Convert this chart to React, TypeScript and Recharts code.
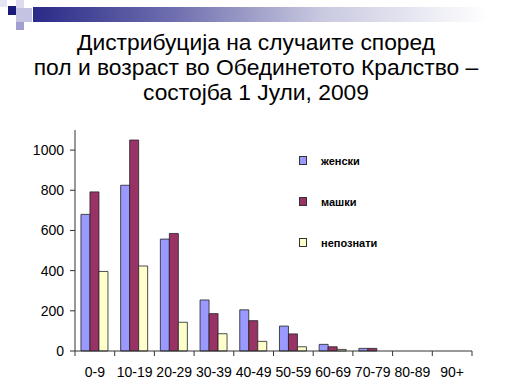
import React from "react";
import { BarChart, Bar, XAxis, YAxis } from "recharts";

const ageGroups = ["0-9", "10-19", "20-29", "30-39", "40-49", "50-59", "60-69", "70-79", "80-89", "90+"];
const female = [680, 825, 557, 254, 205, 124, 33, 13, 0, 0];
const male = [792, 1050, 585, 186, 151, 85, 21, 13, 0, 0];
const unknown = [396, 423, 143, 86, 48, 21, 8, 0, 0, 0];
const yTicks = [0, 200, 400, 600, 800, 1000];

const seriesNames = ["женски", "машки", "непознати"];
const seriesColors = ["#9999ff", "#993366", "#ffffcc"];

const data = ageGroups.map((g, i) => ({
  name: g,
  female: female[i],
  male: male[i],
  unknown: unknown[i],
}));

const CHART_W = 512;
const CHART_H = 384;
const margin = { top: 130, right: 40, bottom: 8, left: 30 };
const Y_AXIS_W = 45;
const plotW = CHART_W - margin.left - margin.right - Y_AXIS_W;
const band = plotW / ageGroups.length;

const XTick = (props: any) => {
  const { x, y, payload, index } = props;
  const axisY = y - 8;
  const left = x - band / 2;
  return (
    <g>
      <line x1={left} x2={left} y1={axisY} y2={axisY + 5} stroke="#333" />
      {index === ageGroups.length - 1 && (
        <line x1={x + band / 2} x2={x + band / 2} y1={axisY} y2={axisY + 5} stroke="#333" />
      )}
      <text x={x} y={axisY + 26} textAnchor="middle" fontSize={14} fill="#000">
        {payload.value}
      </text>
    </g>
  );
};

// legend is drawn as a plain overlay so it doesn't shrink the plot
const LegendBox = () => (
  <div style={{ position: "absolute", left: 299, top: 140 }}>
    {seriesNames.map((n, i) => (
      <div key={n} style={{ display: "flex", alignItems: "center", height: 41 }}>
        <div
          style={{
            width: 6,
            height: 7,
            background: seriesColors[i],
            border: "1px solid #333",
            marginRight: 14,
          }}
        />
        <span style={{ fontSize: 11, fontWeight: "bold", color: "#000" }}>{n}</span>
      </div>
    ))}
  </div>
);

const Decoration = () => (
  <>
    <div style={{ position: "absolute", left: 0, top: 0, width: 7, height: 7, background: "#e4e4f2" }} />
    <div style={{ position: "absolute", left: 8, top: 6, width: 8, height: 9, background: "#1a1a7a" }} />
    <div style={{ position: "absolute", left: 16, top: 0, width: 8, height: 8, background: "#dcdcee" }} />
    <div style={{ position: "absolute", left: 16, top: 8, width: 16, height: 14, background: "#c4c4e2" }} />
    <div style={{ position: "absolute", left: 16, top: 22, width: 8, height: 8, background: "#a0a0d0" }} />
    <div
      style={{
        position: "absolute",
        left: 33,
        top: 7,
        width: 479,
        height: 15,
        background: "linear-gradient(to right, #2a2a88 0%, #7070b0 30%, #c8c8e0 60%, #ffffff 95%)",
      }}
    />
  </>
);

export default function App() {
  return (
    <div
      style={{
        position: "absolute",
        left: 0,
        top: 0,
        width: CHART_W,
        height: CHART_H,
        background: "#fff",
        fontFamily: "Arial, 'Liberation Sans', sans-serif",
        overflow: "hidden",
      }}
    >
      <Decoration />
      <div
        style={{
          position: "absolute",
          top: 30,
          left: 0,
          width: CHART_W,
          textAlign: "center",
          fontSize: 22.8,
          lineHeight: "25px",
          color: "#000",
        }}
      >
        Дистрибуција на случаите според
        <br />
        пол и возраст во Обединетото Кралство –
        <br />
        состојба 1 Јули, 2009
      </div>
      <div style={{ position: "absolute", left: 0, top: 0 }}>
        <BarChart
          width={CHART_W}
          height={CHART_H}
          data={data}
          margin={margin}
          barCategoryGap="15%"
          barGap={0}
        >
          <XAxis
            dataKey="name"
            height={25}
            tickLine={false}
            tickSize={6}
            tickMargin={2}
            interval={0}
            axisLine={{ stroke: "#333" }}
            tick={<XTick />}
          />
          <YAxis
            width={Y_AXIS_W}
            domain={[0, 1100]}
            ticks={yTicks}
            tickSize={5}
            tickMargin={6}
            axisLine={{ stroke: "#333" }}
            tickLine={{ stroke: "#333" }}
            tick={{ fontSize: 14, fill: "#000" }}
          />
          <Bar dataKey="female" name={seriesNames[0]} fill={seriesColors[0]} stroke="#222" strokeWidth={0.8} isAnimationActive={false} />
          <Bar dataKey="male" name={seriesNames[1]} fill={seriesColors[1]} stroke="#222" strokeWidth={0.8} isAnimationActive={false} />
          <Bar dataKey="unknown" name={seriesNames[2]} fill={seriesColors[2]} stroke="#222" strokeWidth={0.8} isAnimationActive={false} />
        </BarChart>
      </div>
      <LegendBox />
    </div>
  );
}
